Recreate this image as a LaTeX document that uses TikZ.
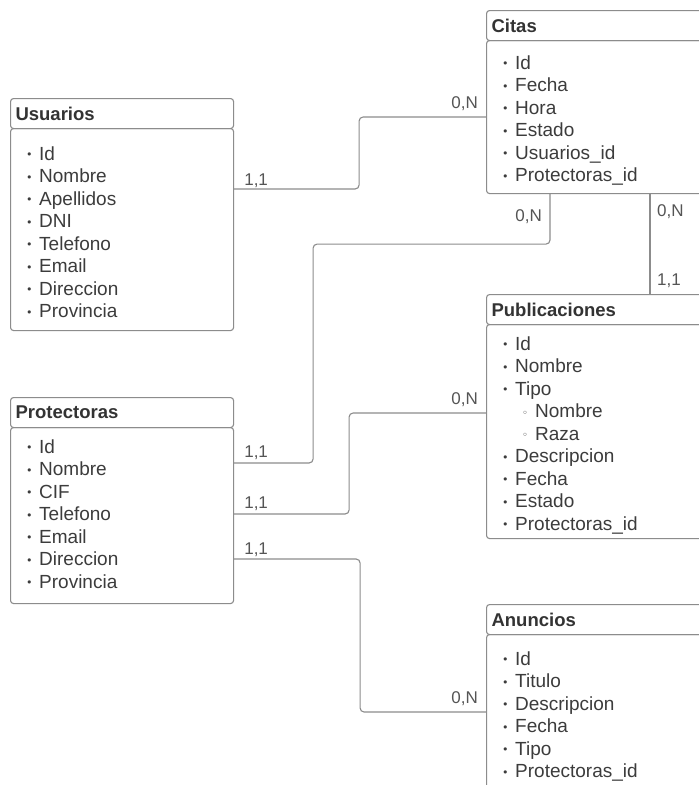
\documentclass[tikz,border=0pt]{standalone}
\usepackage{fontspec}
\setmainfont{Liberation Sans}
\newfontfamily\djv{DejaVu Sans}
\usetikzlibrary{calc}
\definecolor{linec}{HTML}{8C8C8C}
\definecolor{txtc}{HTML}{3C3C3C}
\definecolor{hdrc}{HTML}{333333}
\definecolor{lblc}{HTML}{555555}
\newcommand\itm[1]{\makebox[13pt][l]{\raisebox{1.5pt}{\fontsize{11}{11}\selectfont\djv •}}#1}
\newcommand\sitm[1]{\hspace*{20pt}\makebox[13pt][l]{\raisebox{1.5pt}{\fontsize{10}{10}\selectfont\djv ◦}}#1}
\begin{document}
\begin{tikzpicture}[x=1pt,y=-1pt,
  box/.style={draw=linec, line width=1.1pt, rounded corners=3pt, inner sep=0pt, anchor=north west},
  hdr/.style={box, font=\fontsize{18.5}{20}\selectfont\bfseries, text=hdrc, align=left, inner xsep=5pt, minimum height=30pt},
  lst/.style={inner sep=0pt, anchor=base west, font=\fontsize{19}{22.5}\selectfont, text=txtc},
  conn/.style={draw=linec, line width=1.1pt, rounded corners=4pt},
  lbl/.style={font=\fontsize{17}{17}\selectfont, text=lblc, inner sep=0pt}]
\useasboundingbox (0,0) rectangle (699,785);
\clip (0,0) rectangle (699,785);
\fill[white] (0,0) rectangle (699,785);

% Usuarios
\node[hdr, text width=213pt] (uh) at (10,98) {Usuarios};
\node[box, minimum width=223pt, minimum height=202pt] (ub) at (10,128) {};
\node[lst] (ul) at ([xshift=16pt,yshift=-32pt]ub.north west) {\parbox[t]{200pt}{\itm{Id}\\\itm{Nombre}\\\itm{Apellidos}\\\itm{DNI}\\\itm{Telefono}\\\itm{Email}\\\itm{Direccion}\\\itm{Provincia}}};

% Protectoras
\node[hdr, text width=213pt] (ph) at (10,397) {Protectoras};
\node[box, minimum width=223pt, minimum height=176pt] (pb) at (10,427) {};
\node[lst] (pl) at ([xshift=16pt,yshift=-26pt]pb.north west) {\parbox[t]{200pt}{\itm{Id}\\\itm{Nombre}\\\itm{CIF}\\\itm{Telefono}\\\itm{Email}\\\itm{Direccion}\\\itm{Provincia}}};

% Citas
\node[hdr, text width=250pt] (ch) at (486,10) {Citas};
\node[box, minimum width=260pt, minimum height=153pt] (cb) at (486,40) {};
\node[lst] (cl) at ([xshift=16pt,yshift=-29pt]cb.north west) {\parbox[t]{200pt}{\itm{Id}\\\itm{Fecha}\\\itm{Hora}\\\itm{Estado}\\\itm{Usuarios\_id}\\\itm{Protectoras\_id}}};

% Publicaciones
\node[hdr, text width=250pt] (qh) at (486,294) {Publicaciones};
\node[box, minimum width=260pt, minimum height=214pt] (qb) at (486,324) {};
\node[lst] (ql) at ([xshift=16pt,yshift=-26pt]qb.north west) {\parbox[t]{200pt}{\itm{Id}\\\itm{Nombre}\\\itm{Tipo}\\\sitm{Nombre}\\\sitm{Raza}\\\itm{Descripcion}\\\itm{Fecha}\\\itm{Estado}\\\itm{Protectoras\_id}}};

% Anuncios
\node[hdr, text width=250pt] (ah) at (486,604) {Anuncios};
\node[box, minimum width=260pt, minimum height=220pt] (ab) at (486,634) {};
\node[lst] (al) at ([xshift=16pt,yshift=-31pt]ab.north west) {\parbox[t]{200pt}{\itm{Id}\\\itm{Titulo}\\\itm{Descripcion}\\\itm{Fecha}\\\itm{Tipo}\\\itm{Protectoras\_id}}};

% connectors
\draw[conn] ([yshift=-61pt]ub.north east) -- ([xshift=125pt,yshift=-61pt]ub.north east) |- ([yshift=-77pt]cb.north west);
\draw[conn] ([yshift=-36pt]pb.north east) -- ([xshift=79pt,yshift=-36pt]pb.north east) |- ([xshift=64pt,yshift=-50pt]cb.south west) -- ([xshift=64pt]cb.south west);
\draw[conn] ([yshift=-87pt]pb.north east) -- ([xshift=115pt,yshift=-87pt]pb.north east) |- ([yshift=-89pt]qb.north west);
\draw[conn] ([yshift=-132pt]pb.north east) -- ([xshift=126pt,yshift=-132pt]pb.north east) |- ([yshift=-78pt]ab.north west);
\draw[conn] ([xshift=164pt]cb.south west) -- ([xshift=164pt]qh.north west);

% labels
\node[lbl, anchor=base west] (l1) at ([xshift=10pt,yshift=-57pt]ub.north east) {1,1};
\node[lbl, anchor=base east] (l2) at ([xshift=-8pt,yshift=-68pt]cb.north west) {0,N};
\node[lbl, anchor=base west] (l3) at ([xshift=10pt,yshift=-30pt]pb.north east) {1,1};
\node[lbl, anchor=base east] (l4) at ([xshift=56pt,yshift=-27pt]cb.south west) {0,N};
\node[lbl, anchor=base west] (l5) at ([xshift=10pt,yshift=-81pt]pb.north east) {1,1};
\node[lbl, anchor=base east] (l6) at ([xshift=-8pt,yshift=-80pt]qb.north west) {0,N};
\node[lbl, anchor=base west] (l7) at ([xshift=10pt,yshift=-127pt]pb.north east) {1,1};
\node[lbl, anchor=base east] (l8) at ([xshift=-8pt,yshift=-69pt]ab.north west) {0,N};
\node[lbl, anchor=base west] (l9) at ([xshift=171pt,yshift=-22pt]cb.south west) {0,N};
\node[lbl, anchor=base west] (l10) at ([xshift=171pt,yshift=9pt]qh.north west) {1,1};
\end{tikzpicture}
\end{document}
